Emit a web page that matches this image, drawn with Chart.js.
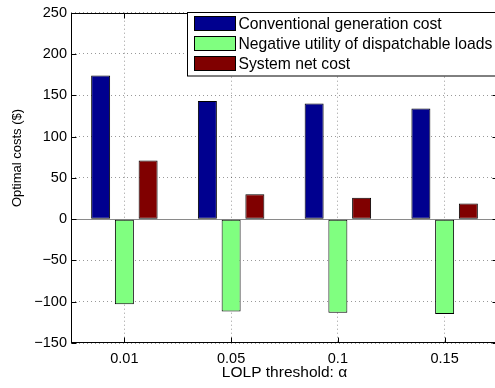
<!DOCTYPE html>
<html><head><meta charset="utf-8">
<script src="https://cdn.jsdelivr.net/npm/chart.js@4/dist/chart.umd.min.js"></script>
<style>html,body{margin:0;padding:0;background:#fff;overflow:hidden}#wrap{position:relative;width:500px;height:388px}</style>
</head><body><div id="wrap"><canvas id="c"></canvas></div>
<script>
const categories = ['0.01', '0.05', '0.1', '0.15'];
const seriesNames = ['Conventional generation cost', 'Negative utility of dispatchable loads', 'System net cost'];
const conventionalCost = [174, 143, 140, 134];
const negativeUtility = [-103, -112, -113.5, -115];
const systemNetCost = [71, 30, 26, 19];
const yTickValues = [-150, -100, -50, 0, 50, 100, 150, 200, 250];
const xTitle = 'LOLP threshold: \u03b1';
const yTitle = 'Optimal costs ($)';
const seriesColors = ['#00008F', '#80FF80', '#800000'];

const FONT = '"Liberation Sans", Arial, Helvetica, sans-serif';
const TXT = '#000';

const framePlugin = {
  id: 'frame',
  beforeDatasetsDraw(chart) {
    const {ctx, chartArea: a, scales: {y}} = chart;
    const y0 = Math.round(y.getPixelForValue(0)) + 0.5;
    ctx.save();
    ctx.strokeStyle = '#8a8a8a'; ctx.lineWidth = 1;
    ctx.beginPath(); ctx.moveTo(a.left, y0); ctx.lineTo(a.right, y0); ctx.stroke();
    ctx.restore();
  },
  afterDatasetsDraw(chart) {
    const {ctx, chartArea: a, scales: {x, y}} = chart;
    ctx.save();
    ctx.strokeStyle = '#000'; ctx.lineWidth = 1;
    const L = Math.round(a.left) + 0.5, R = Math.round(a.right) - 0.5;
    const T = Math.round(a.top) + 0.5, B = Math.round(a.bottom) - 0.5;
    ctx.strokeRect(L, T, R - L, B - T);
    ctx.beginPath();
    yTickValues.forEach(v => {
      const py = Math.round(y.getPixelForValue(v)) + 0.5;
      ctx.moveTo(L, py); ctx.lineTo(L + 5, py);
      ctx.moveTo(R, py); ctx.lineTo(R - 5, py);
    });
    categories.forEach((c, i) => {
      const px = Math.round(x.getPixelForValue(i)) + 0.5;
      ctx.moveTo(px, B); ctx.lineTo(px, B - 5);
      ctx.moveTo(px, T); ctx.lineTo(px, T + 5);
    });
    ctx.stroke();

    // legend
    ctx.fillStyle = '#fff';
    ctx.fillRect(187.5, 12.5, 330, 63.5);
    ctx.strokeRect(187.5, 12.5, 330, 63.5);
    ctx.font = '15.7px ' + FONT;
    ctx.textBaseline = 'middle';
    ctx.textAlign = 'left';
    chart.data.datasets.forEach((ds, i) => {
      const top = 16.5 + i * 20;
      ctx.fillStyle = ds.backgroundColor;
      ctx.fillRect(194.5, top, 41, 14);
      ctx.strokeStyle = '#000';
      ctx.strokeRect(194.5, top, 41, 14);
      ctx.fillStyle = TXT;
      ctx.fillText(ds.label, 238.5, top + 8.5);
    });

    // y title
    ctx.translate(17, 158);
    ctx.rotate(-Math.PI / 2);
    ctx.font = '13px ' + FONT;
    ctx.textAlign = 'center';
    ctx.fillStyle = TXT;
    ctx.fillText(yTitle, 0, 0);
    ctx.restore();
  }
};

new Chart(document.getElementById('c'), {
  type: 'bar',
  data: {
    labels: categories,
    datasets: [
      {label: seriesNames[0], data: conventionalCost, backgroundColor: seriesColors[0]},
      {label: seriesNames[1], data: negativeUtility, backgroundColor: seriesColors[1]},
      {label: seriesNames[2], data: systemNetCost, backgroundColor: seriesColors[2]}
    ].map(d => Object.assign(d, {borderColor: '#000', borderWidth: 1, borderSkipped: false,
      categoryPercentage: 0.667, barPercentage: 0.8}))
  },
  options: {
    responsive: true,
    maintainAspectRatio: false,
    animation: false,
    layout: {padding: {left: 0, right: 2, top: 7, bottom: 0}},
    plugins: {legend: {display: false}, tooltip: {enabled: false}},
    scales: {
      x: {
        grid: {offset: false, drawTicks: false, color: 'rgba(0,0,0,0.4)'},
        border: {display: false, dash: [1, 3]},
        ticks: {padding: 7, color: TXT, font: {family: FONT, size: 14.5}, maxRotation: 0},
        title: {display: true, text: xTitle, color: TXT, font: {family: FONT, size: 15.5}, padding: {top: 0, bottom: 5.5}},
        afterFit(s) { s.height = 45; }
      },
      y: {
        min: -150, max: 250,
        afterBuildTicks(s) { s.ticks = yTickValues.map(v => ({value: v})); },
        grid: {drawTicks: false, color: 'rgba(0,0,0,0.4)'},
        border: {display: false, dash: [1, 3]},
        ticks: {padding: 4, color: TXT, font: {family: FONT, size: 14.5},
          callback: v => String(v).replace('-', '\u2212')},
        afterFit(s) { s.width = 71; }
      }
    }
  },
  plugins: [framePlugin]
});
</script>
</body></html>
